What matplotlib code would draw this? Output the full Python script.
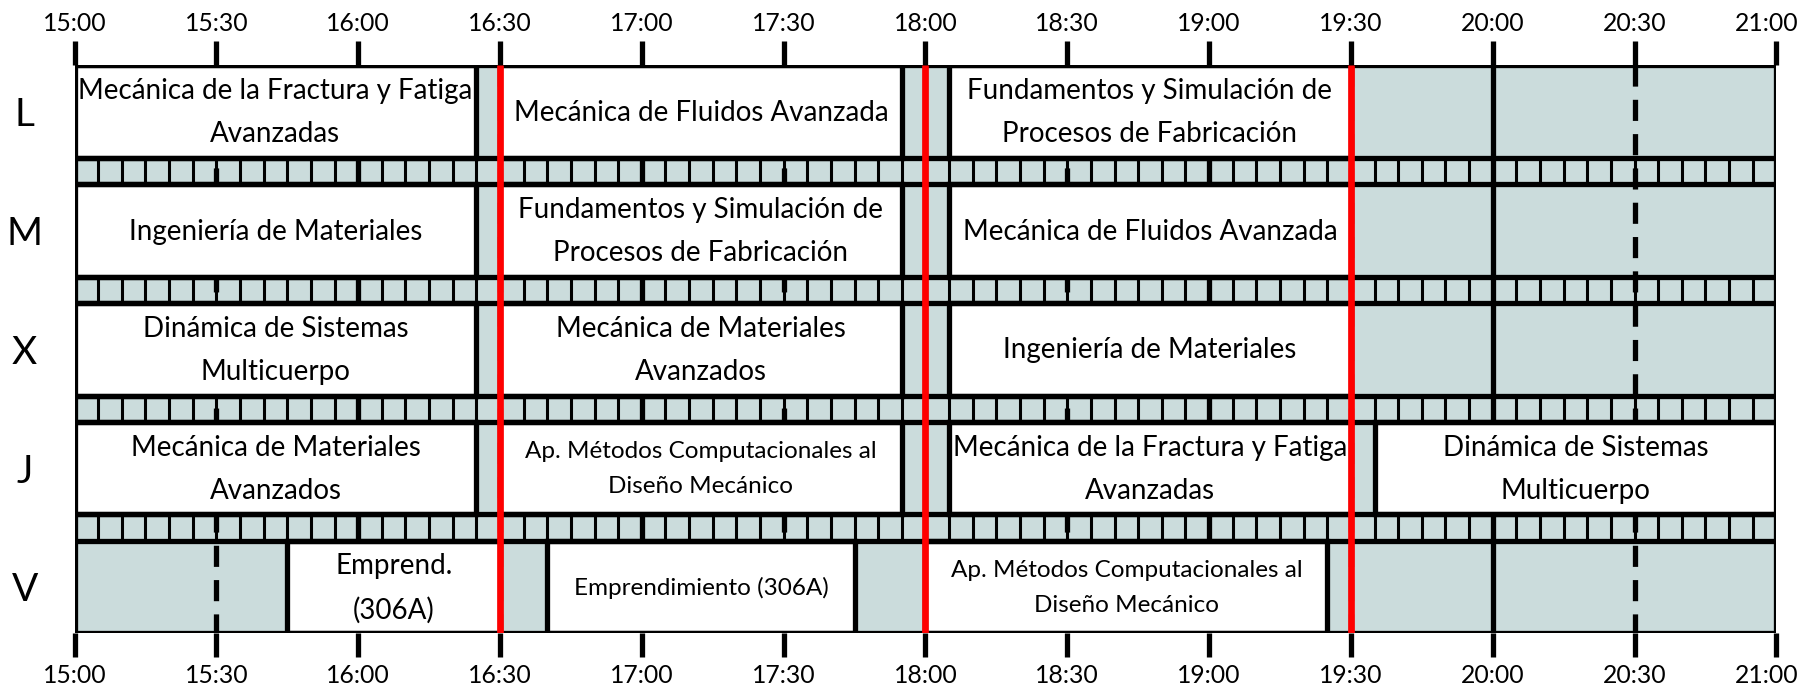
import numpy as np
import matplotlib.pyplot as plt
from matplotlib.patches import Rectangle
from matplotlib.transforms import ScaledTranslation

plt.rcParams['font.family'] = ['Lato', 'DejaVu Sans']

# horario: (inicio, fin, asignatura) por dia
dias = ['L', 'M', 'X', 'J', 'V']

clases_L = [("15:00", "16:25", "Mecánica de la Fractura y Fatiga\nAvanzadas"),
            ("16:30", "17:55", "Mecánica de Fluidos Avanzada"),
            ("18:05", "19:30", "Fundamentos y Simulación de\nProcesos de Fabricación")]
clases_M = [("15:00", "16:25", "Ingeniería de Materiales"),
            ("16:30", "17:55", "Fundamentos y Simulación de\nProcesos de Fabricación"),
            ("18:05", "19:30", "Mecánica de Fluidos Avanzada")]
clases_X = [("15:00", "16:25", "Dinámica de Sistemas\nMulticuerpo"),
            ("16:30", "17:55", "Mecánica de Materiales\nAvanzados"),
            ("18:05", "19:30", "Ingeniería de Materiales")]
clases_J = [("15:00", "16:25", "Mecánica de Materiales\nAvanzados"),
            ("16:30", "17:55", "Ap. Métodos Computacionales al\nDiseño Mecánico"),
            ("18:05", "19:30", "Mecánica de la Fractura y Fatiga\nAvanzadas"),
            ("19:35", "21:00", "Dinámica de Sistemas\nMulticuerpo")]
clases_V = [("15:45", "16:30", "Emprend.\n(306A)"),
            ("16:40", "17:45", "Emprendimiento (306A)"),
            ("18:00", "19:25", "Ap. Métodos Computacionales al\nDiseño Mecánico")]

horas = ["15:00", "15:30", "16:00", "16:30", "17:00", "17:30", "18:00",
         "18:30", "19:00", "19:30", "20:00", "20:30", "21:00"]
lineas_rojas = ["16:30", "18:00", "19:30"]

texto_pequeno = ["Ap. Métodos Computacionales al\nDiseño Mecánico", "Emprendimiento (306A)"]


def h(t):
    hh, mm = t.split(":")
    return int(hh) + int(mm) / 60.0


gris = '#cbdcdc'
R, G = 81, 23          # alto de fila y de franja separadora
paso = R + G
total = 5 * R + 4 * G
lw = 3.8

fig = plt.figure(figsize=(17.97, 6.94), dpi=100)
ax = fig.add_axes([0.0415, 0.0875, 0.947, 0.8185])
ax.set_xlim(h(horas[0]), h(horas[-1]))
ax.set_ylim(total, 0)
ax.set_facecolor(gris)
for s in ax.spines.values():
    s.set_visible(False)

x0, x1 = h(horas[0]), h(horas[-1])

# franjas entre filas: divisiones cada 5 minutos
cinco = np.arange(x0, x1 + 1e-9, 1 / 12)
for i in range(4):
    ya = i * paso + R
    ax.vlines(cinco, ya, ya + G, color='black', lw=2.2, zorder=2)

# lineas de hora (continuas) y media hora (discontinuas)
xs = [h(t) for t in horas]
enteras = [x for x in xs if abs(x - round(x)) < 1e-9]
medias = [x for x in xs if abs(x - round(x)) > 1e-9]
ax.vlines(enteras, 0, total, color='black', lw=lw, zorder=3)
ax.vlines(medias, 0, total, color='black', lw=lw, linestyles=(0, (4, 2.5)), zorder=3)

# bordes horizontales de cada fila
for i in range(5):
    ax.hlines([i * paso, i * paso + R], x0, x1, color='black', lw=lw, zorder=6)

# bloques de clase
for i, clases in enumerate([clases_L, clases_M, clases_X, clases_J, clases_V]):
    top = i * paso
    for ini, fin, nombre in clases:
        a, b = h(ini), h(fin)
        ax.add_patch(Rectangle((a, top), b - a, R, facecolor='white',
                               edgecolor='black', lw=lw, zorder=5))
        fs = 17.5 if nombre in texto_pequeno else 20
        ax.text((a + b) / 2, top + R / 2 + 1, nombre, ha='center', va='center',
                fontsize=fs, linespacing=1.8, zorder=7)

ax.vlines([h(t) for t in lineas_rojas], 0, total + 2, color='#ff0000', lw=4.8, zorder=10)

ax.set_xticks(xs)
ax.set_xticklabels(horas)
ax.tick_params(axis='x', top=True, bottom=True, labeltop=True, labelbottom=True,
               direction='out', length=17, width=lw, pad=5, labelsize=17.8)
# ultima etiqueta algo a la izquierda para que quepa
desp = ScaledTranslation(-0.1, 0, fig.dpi_scale_trans)
for tick in ax.xaxis.get_major_ticks()[-1:]:
    tick.label1.set_transform(tick.label1.get_transform() + desp)
    tick.label2.set_transform(tick.label2.get_transform() + desp)

ax.set_yticks([i * paso + R / 2 for i in range(5)])
ax.set_yticklabels(dias)
ax.tick_params(axis='y', length=0, pad=36, labelsize=28)
for lbl in ax.get_yticklabels():
    lbl.set_ha('center')

fig.savefig('out.png', dpi=100)
